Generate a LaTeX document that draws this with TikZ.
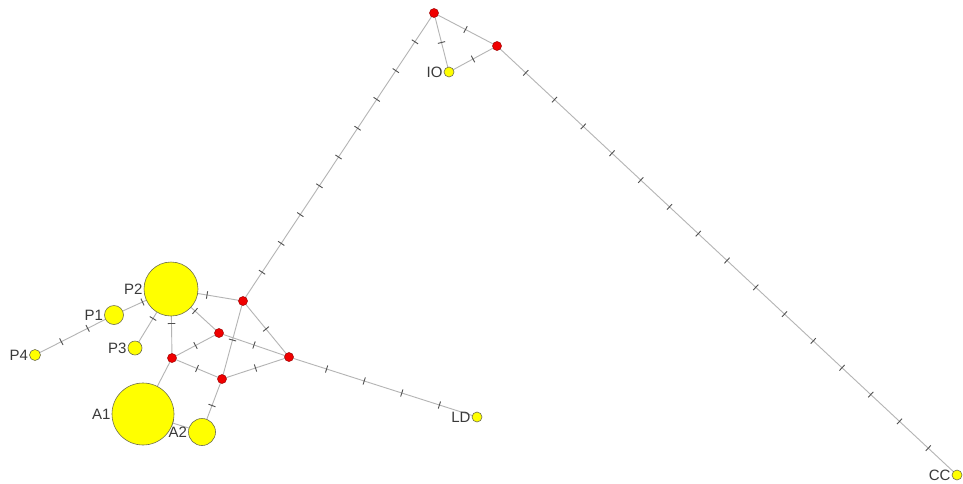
\documentclass[tikz,border=0pt]{standalone}
\usepackage{fontspec}
\setmainfont{Liberation Sans}
\usetikzlibrary{backgrounds}
\definecolor{hapYellow}{HTML}{FFFF00}
\definecolor{hapLine}{HTML}{6E6E50}
\definecolor{medRed}{HTML}{F00000}
\definecolor{medLine}{HTML}{A00000}
\definecolor{linkGrey}{HTML}{B4B4B4}
\definecolor{tickGrey}{HTML}{505050}
\definecolor{labelGrey}{HTML}{3A3A3A}

% link between two haplotypes, #3 = number of mutation ticks
\newcommand{\mutlink}[3]{%
  \draw[link] (#1.center) -- (#2.center)
    foreach \k [evaluate=\k as \p using \k/(#3+1)] in {1,...,#3} {node[mutmark,pos=\p] {\rule{0.9pt}{7.5pt}}};}

\begin{document}
\begin{tikzpicture}[x=1pt,y=-1pt,
    hap/.style={circle,draw=hapLine,fill=hapYellow,line width=0.6pt,inner sep=0pt},
    med/.style={circle,draw=medLine,fill=medRed,line width=0.5pt,inner sep=0pt,minimum size=9pt},
    link/.style={draw=linkGrey,line width=0.9pt},
    mutmark/.style={sloped,inner sep=0pt,text=tickGrey},
    every label/.style={text=labelGrey,font=\fontsize{15pt}{15pt}\selectfont,inner sep=1pt},
    label distance=0pt]
  \useasboundingbox (0,0) rectangle (963,483);
  % haplotypes
  \node[hap,minimum size=54pt,label=left:P2] (P2) at (171,289) {};
  \node[hap,minimum size=19pt,label=left:P1] (P1) at (114,315) {};
  \node[hap,minimum size=14pt,label=left:P3] (P3) at (135,348) {};
  \node[hap,minimum size=11pt,label=left:P4] (P4) at (35,355) {};
  \node[hap,minimum size=62pt,label=left:A1] (A1) at (143,414) {};
  \node[hap,minimum size=27pt,label=left:A2] (A2) at (202,432) {};
  \node[hap,minimum size=10pt,label=left:IO] (IO) at (449,72) {};
  \node[hap,minimum size=10pt,label=left:LD] (LD) at (477,417) {};
  \node[hap,minimum size=10pt,label=left:CC] (CC) at (957,475) {};
  % median vectors
  \node[med] (mv1) at (243,301) {};
  \node[med] (mv2) at (219,333) {};
  \node[med] (mv3) at (172,358) {};
  \node[med] (mv4) at (222,379) {};
  \node[med] (mv5) at (289,357) {};
  \node[med] (mv6) at (434,13) {};
  \node[med] (mv7) at (497,46) {};
  \begin{scope}[on background layer]
    \fill[white] (0,0) rectangle (963,483);
    \mutlink{P4}{P1}{2}
    \mutlink{P1}{P2}{1}
    \mutlink{P3}{P2}{1}
    \mutlink{P2}{mv1}{1}
    \mutlink{P2}{mv2}{1}
    \mutlink{P2}{mv3}{1}
    \draw[link] (mv3.center) -- (A1.center);
    \mutlink{A1}{A2}{1}
    \mutlink{A2}{mv4}{1}
    \mutlink{mv3}{mv2}{1}
    \mutlink{mv3}{mv4}{1}
    \mutlink{mv1}{mv4}{1}
    \mutlink{mv2}{mv5}{1}
    \mutlink{mv1}{mv5}{1}
    \mutlink{mv4}{mv5}{1}
    \mutlink{mv5}{LD}{4}
    \mutlink{mv1}{mv6}{9}
    \mutlink{mv6}{IO}{1}
    \mutlink{mv6}{mv7}{1}
    \mutlink{mv7}{IO}{1}
    \mutlink{mv7}{CC}{15}
  \end{scope}
\end{tikzpicture}
\end{document}
